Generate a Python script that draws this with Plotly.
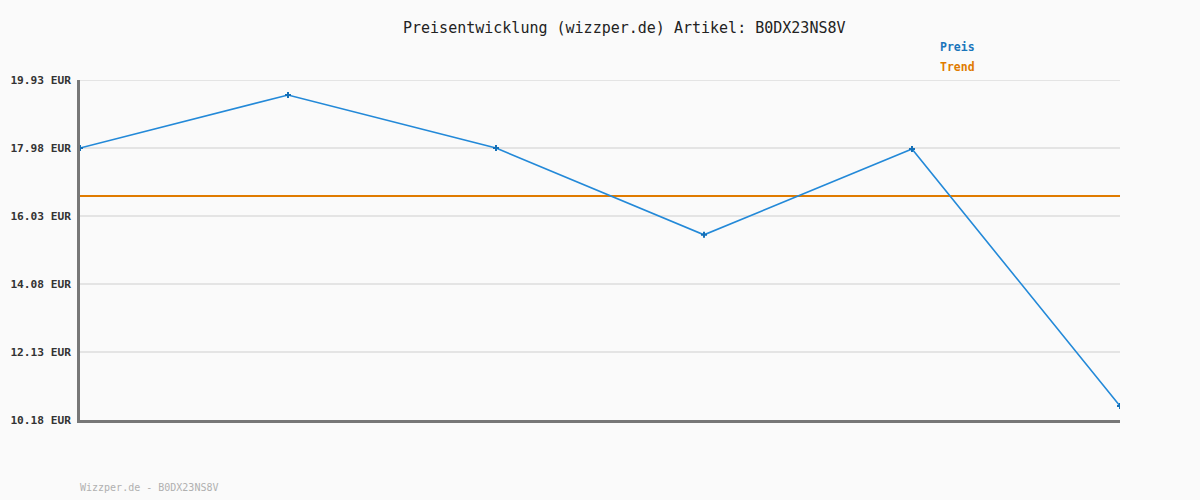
import plotly.graph_objects as go

x_idx = [0, 1, 2, 3, 4, 5]
preis = [17.98, 19.50, 17.98, 15.49, 17.95, 10.58]
trend_value = 16.60
tick_vals = [10.18, 12.13, 14.08, 16.03, 17.98, 19.93]
tick_text = ["10.18 EUR", "12.13 EUR", "14.08 EUR", "16.03 EUR", "17.98 EUR", "19.93 EUR"]
title_text = "Preisentwicklung (wizzper.de) Artikel: B0DX23NS8V"
footer_text = "Wizzper.de - B0DX23NS8V"

MONO = "DejaVu Sans Mono, Liberation Mono, monospace"
BLUE = "#2389d8"
BLUE_DARK = "#1470b8"
ORANGE = "#e07b00"
GRID = "#e4e4e4"

fig = go.Figure()
fig.add_trace(go.Scatter(
    x=x_idx, y=[trend_value] * len(x_idx), mode="lines",
    line=dict(color=ORANGE, width=2), showlegend=False, hoverinfo="skip"))
fig.add_trace(go.Scatter(
    x=x_idx, y=preis, mode="lines+markers",
    line=dict(color=BLUE, width=1.6),
    marker=dict(symbol="cross", size=5, color=BLUE_DARK),
    showlegend=False))

# top gridline (hidden by plotly at the range edge)
fig.add_shape(type="line", xref="paper", yref="y", x0=0, x1=1,
              y0=tick_vals[-1], y1=tick_vals[-1],
              line=dict(color=GRID, width=2), layer="below")

fig.update_layout(
    width=1200, height=500,
    margin=dict(l=80, r=80, t=80, b=80, autoexpand=False),
    paper_bgcolor="#fafafa", plot_bgcolor="#fafafa",
    font=dict(family=MONO, color="#333333"),
    xaxis=dict(range=[0, 5], showgrid=False, zeroline=False, showticklabels=False,
               showline=True, linecolor="#777777", linewidth=2.5, automargin=False),
    yaxis=dict(range=[10.18, 19.93], tickvals=tick_vals, ticktext=tick_text,
               showgrid=True, gridcolor=GRID, gridwidth=2, zeroline=False,
               showline=True, linecolor="#777777", linewidth=2.5, automargin=False,
               ticks="outside", ticklen=4, tickcolor="rgba(0,0,0,0)",
               tickfont=dict(family=MONO, size=11.2, color="#333333", weight="bold")),
    annotations=[
        dict(text=title_text, xref="paper", yref="paper", x=544/1040, y=1,
             xanchor="center", yanchor="middle", showarrow=False,
             font=dict(family=MONO, size=15, color="#222222"),
             yshift=52),
        dict(text="<b>Preis</b>", xref="paper", yref="paper", x=(938-80)/1040, y=1,
             xanchor="left", yanchor="middle", showarrow=False, yshift=33,
             font=dict(family=MONO, size=11.5, color="#1a75bb")),
        dict(text="<b>Trend</b>", xref="paper", yref="paper", x=(938-80)/1040, y=1,
             xanchor="left", yanchor="middle", showarrow=False, yshift=13,
             font=dict(family=MONO, size=11.5, color=ORANGE)),
        dict(text=footer_text, xref="paper", yref="paper", x=0, y=0,
             xanchor="left", yanchor="middle", showarrow=False, yshift=-67, xshift=-2,
             font=dict(family=MONO, size=10, color="#b0b0b0")),
    ],
)

fig.write_html("out.html", config={"displayModeBar": False},
               post_script="document.body.style.margin='0';document.body.style.background='#fafafa';")
